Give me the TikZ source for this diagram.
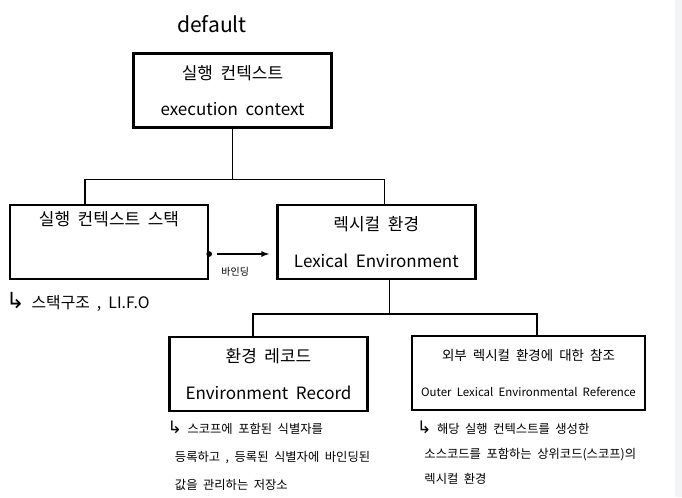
\documentclass[tikz,border=0pt]{standalone}
\usepackage{fontspec}
\setmainfont[WordSpace=2]{Noto Sans CJK KR}
\newfontfamily\symfont[Scale=1.4]{DejaVu Sans}
\usetikzlibrary{positioning, calc}
\definecolor{sidegray}{HTML}{F3F4F6}

\begin{document}
\begin{tikzpicture}[
            x=0.03cm, y=-0.03cm,
            box/.style={rectangle, draw=black, line width=2pt, minimum width=5.94cm, minimum height=2.22cm, inner sep=0pt, align=center, font=\fontsize{14.5}{31}\selectfont},
            widebox/.style={box, minimum width=6.99cm, font=\fontsize{11.5}{31}\selectfont},
            heading/.style={inner sep=0pt, font=\fontsize{18}{18}\selectfont},
            note/.style={align=left, inner sep=0pt, font=\fontsize{10.5}{23.5}\selectfont},
            tag/.style={inner sep=0pt, font=\fontsize{8.5}{10}\selectfont},
            link/.style={line width=1.3pt},
            bind/.style={->, >=latex, line width=1.3pt},
            bindpoint/.style={circle, fill=black, inner sep=0pt, minimum size=0.17cm}
        ]
            \useasboundingbox (0,0) rectangle (682,497);
            \fill[sidegray] (675,0) rectangle (682,497);

            % --- Node Placement ---
            \node[heading] (deflt) at (212,24) {default};
            \node[box] (ctx) at (232.5,90.5) {실행 컨텍스트\\execution context};
            \node[box] (stack) at (109,242) {실행 컨텍스트 스택\\\strut};
            \node[box, right=2.01cm of stack] (lexenv) {렉시컬 환경\\Lexical Environment};
            \node[box] (record) at (268.5,374) {환경 레코드\\Environment Record};
            \node[widebox] (outer) at (528.5,373) {외부 렉시컬 환경에 대한 참조\\{\fontsize{9.8}{31}\selectfont Outer Lexical Environmental Reference}};

            % --- Links and Labels ---
            \draw[link] (ctx.south) -- ++(0,51) coordinate (fork1);
            \draw[link] ($(stack.north)+(-24,0)$) |- (fork1) -| ($(lexenv.north)+(8,0)$);
            \draw[link] ($(lexenv.south)+(13,0)$) -- ++(0,34) coordinate (fork2);
            \draw[link] ($(record.north)+(-15.5,0)$) |- (fork2) -| ($(outer.north)+(8.5,0)$);

            \node[bindpoint] (bindsrc) at ($(stack.east)+(0,12)$) {};
            \draw[bind, shorten <=0.15cm, shorten >=0.21cm] (bindsrc) -- (bindsrc -| lexenv.west)
              node[tag, midway, below=0.38cm, xshift=-0.27cm] (bindlbl) {바인딩};

            % notes under the boxes
            \node[note, anchor=north west, font=\fontsize{13.5}{16}\selectfont] (stacknote) at ($(stack.south west)+(-3,12)$) {{\symfont ↳} 스택구조 , LI.F.O};
            \node[note, anchor=north west] (recordnote) at ($(record.south west)+(-1,9)$)
              {{\symfont ↳} 스코프에 포함된 식별자를\\
               \hspace*{0.6em}등록하고 , 등록된 식별자에 바인딩된\\
               \hspace*{0.6em}값을 관리하는 저장소};
            \node[note, anchor=north west, font=\fontsize{10.5}{21}\selectfont] (outernote) at ($(outer.south west)+(6,10)$)
              {{\symfont ↳} 해당 실행 컨텍스트를 생성한\\
               \hspace*{0.6em}소스코드를 포함하는 상위코드(스코프)의\\
               \hspace*{0.6em}렉시컬 환경};
        \end{tikzpicture}
\end{document}
